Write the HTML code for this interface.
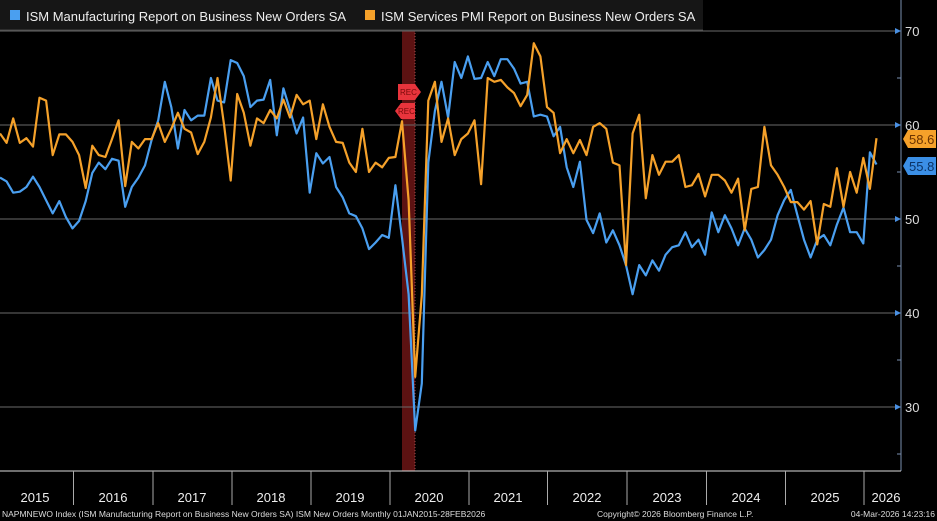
<!DOCTYPE html>
<html><head><meta charset="utf-8"><style>
html,body{margin:0;padding:0;background:#000;}
svg{display:block;font-family:"Liberation Sans",sans-serif;}
</style></head><body>
<svg id="c" width="937" height="521" viewBox="0 0 937 521" xmlns="http://www.w3.org/2000/svg">
<rect width="937" height="521" fill="#000"/>
<rect x="402" y="0" width="13" height="471" fill="#5c1212"/>
<line x1="415" y1="0" x2="415" y2="471" stroke="#a05050" stroke-dasharray="1,2"/>
<g stroke="#6a6a6a" stroke-width="1">
<line x1="0" y1="31" x2="901" y2="31"/><line x1="0" y1="125" x2="901" y2="125"/>
<line x1="0" y1="219" x2="901" y2="219"/><line x1="0" y1="313" x2="901" y2="313"/>
<line x1="0" y1="407" x2="901" y2="407"/>
</g>
<line x1="901" y1="0" x2="901" y2="471" stroke="#7a8fb0"/>
<line x1="0" y1="471" x2="901" y2="471" stroke="#ddd"/>
<g fill="#4a90e2">
<path d="M895 28 L901 31 L895 34Z"/><path d="M895 122 L901 125 L895 128Z"/><path d="M895 216 L901 219 L895 222Z"/><path d="M895 310 L901 313 L895 316Z"/><path d="M895 404 L901 407 L895 410Z"/>
</g>
<g stroke="#7a8fb0"><line x1="897" y1="78" x2="901" y2="78"/><line x1="897" y1="172" x2="901" y2="172"/><line x1="897" y1="266" x2="901" y2="266"/><line x1="897" y1="360" x2="901" y2="360"/><line x1="897" y1="454" x2="901" y2="454"/></g>
<g fill="#ddd" font-size="13">
<text x="905" y="36">70</text><text x="905" y="130">60</text><text x="905" y="224">50</text><text x="905" y="318">40</text><text x="905" y="412">30</text>
</g>
<g id="lines"></g>
<g>
<path d="M398 84 L415 84 L421 92 L415 100 L398 100Z" fill="#e8343c"/>
<text x="400" y="95" font-size="8" fill="#7a0a0a">REC</text>
<path d="M401 103 L415 103 L415 119 L401 119 L395 111Z" fill="#e8343c"/>
<text x="398" y="114" font-size="8" fill="#7a0a0a">REC</text>
</g>
<path d="M903 139 L908 130 L936 130 L936 148 L908 148Z" fill="#f5a12a"/>
<text x="909" y="144" font-size="13" fill="#6b3300">58.6</text>
<path d="M903 166 L908 157 L936 157 L936 175 L908 175Z" fill="#3b8fe6"/>
<text x="909" y="171" font-size="13" fill="#0b3466">55.8</text>
<rect x="0" y="0" width="703" height="30" fill="#161616"/>
<line x1="0" y1="30" x2="703" y2="30" stroke="#444"/>
<rect x="10" y="10" width="10" height="10" fill="#4a9ff0"/>
<text x="26" y="21" font-size="13" fill="#eee">ISM Manufacturing Report on Business New Orders SA</text>
<rect x="365" y="10" width="10" height="10" fill="#f5a12a"/>
<text x="381" y="21" font-size="13" fill="#eee">ISM Services PMI Report on Business New Orders SA</text>
<g stroke="#aaa"><line x1="73.5" y1="471" x2="73.5" y2="505"/><line x1="153" y1="471" x2="153" y2="505"/><line x1="232" y1="471" x2="232" y2="505"/><line x1="311" y1="471" x2="311" y2="505"/><line x1="390" y1="471" x2="390" y2="505"/><line x1="469" y1="471" x2="469" y2="505"/><line x1="547.5" y1="471" x2="547.5" y2="505"/><line x1="627" y1="471" x2="627" y2="505"/><line x1="706.5" y1="471" x2="706.5" y2="505"/><line x1="785.5" y1="471" x2="785.5" y2="505"/><line x1="864" y1="471" x2="864" y2="505"/></g>
<g fill="#eee" font-size="13" text-anchor="middle">
<text x="35" y="502">2015</text><text x="113" y="502">2016</text><text x="192" y="502">2017</text><text x="271" y="502">2018</text><text x="350" y="502">2019</text><text x="429" y="502">2020</text><text x="508" y="502">2021</text><text x="587" y="502">2022</text><text x="667" y="502">2023</text><text x="746" y="502">2024</text><text x="825" y="502">2025</text><text x="886" y="502">2026</text>
</g>
<g fill="#ddd" font-size="8.5">
<text x="2" y="517">NAPMNEWO Index (ISM Manufacturing Report on Business New Orders SA) ISM New Orders Monthly 01JAN2015-28FEB2026</text>
<text x="597" y="517">Copyright© 2026 Bloomberg Finance L.P.</text>
<text x="935" y="517" text-anchor="end">04-Mar-2026 14:23:16</text>
</g>
</svg>
<script>
var B=[54.4,54.0,52.8,52.9,53.4,54.5,53.4,52.0,50.6,51.9,50.2,49.0,49.8,51.9,54.9,56.0,55.3,56.4,56.2,51.3,53.4,54.4,55.7,58.4,60.5,64.6,61.9,57.5,61.6,60.5,61.0,61.0,65.0,62.6,62.4,66.9,66.6,65.2,61.9,62.6,62.7,64.8,58.9,63.9,61.6,59.1,60.8,52.8,57.0,55.9,56.6,53.4,52.3,50.6,50.3,49.0,46.8,47.5,48.3,48.0,53.6,48.0,42.0,27.5,32.5,56.0,61.5,64.6,60.8,66.7,65.0,67.3,64.9,65.0,66.7,65.2,67.0,67.0,66.0,64.4,64.6,60.9,61.1,60.9,58.8,59.8,55.5,53.4,56.1,49.9,48.5,50.6,47.5,48.8,47.2,45.1,42.0,45.1,44.0,45.6,44.5,46.2,47.0,47.2,48.6,47.0,47.8,46.2,50.7,48.6,50.4,49.0,47.2,49.0,47.8,45.9,46.7,47.8,50.4,52.0,53.1,50.4,47.8,45.9,47.8,48.3,47.2,49.4,51.2,48.6,48.6,47.4,57.1,55.8];
var O=[59.1,58.1,60.7,58.1,58.6,57.7,62.9,62.6,56.8,59.0,59.0,58.2,56.8,53.3,57.8,56.8,56.6,58.5,60.5,53.5,58.2,57.5,58.5,58.5,60.2,58.2,59.6,61.3,59.6,59.2,56.9,58.2,60.8,65.0,60.0,54.1,63.3,61.3,57.8,60.7,60.2,61.6,60.7,62.7,60.8,63.2,62.2,62.6,58.5,62.2,59.8,58.2,58.1,56.0,55.0,59.6,55.0,56.0,55.5,56.5,56.6,60.4,52.0,33.2,41.9,62.6,64.6,58.2,60.7,56.8,58.5,59.1,60.5,53.7,65.0,64.6,64.8,64.0,63.4,62.0,63.2,68.7,67.3,61.9,61.3,57.0,58.5,57.0,58.4,56.8,59.8,60.2,59.6,56.0,55.7,45.1,59.1,61.1,52.2,56.8,54.7,56.1,56.1,56.8,53.4,53.6,54.8,52.4,54.7,54.7,54.1,52.8,54.3,48.8,53.2,53.4,59.8,55.7,54.7,53.4,51.8,51.8,51.0,51.9,47.3,51.6,51.3,55.4,51.3,55.0,52.8,56.5,53.2,58.6];
function pts(a){return a.map(function(v,i){return (i*6.59).toFixed(1)+","+(31+(70-v)*9.4).toFixed(1)}).join(" ");}
var g=document.getElementById("lines");
g.innerHTML='<polyline fill="none" stroke="#4a9ff0" stroke-width="2.2" stroke-linejoin="round" points="'+pts(B)+'"/>'+
'<polyline fill="none" stroke="#f5a12a" stroke-width="2.2" stroke-linejoin="round" points="'+pts(O)+'"/>';
</script>
</body></html>
